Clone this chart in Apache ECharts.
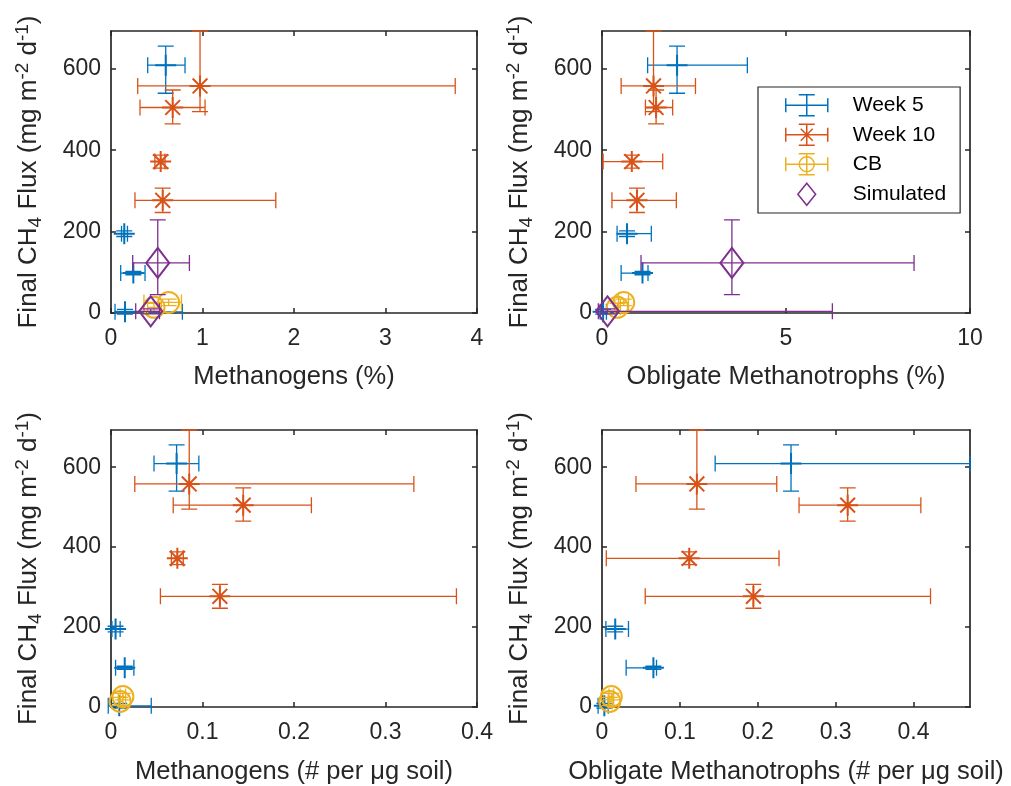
<!DOCTYPE html>
<html><head><meta charset="utf-8">
<script src="https://cdn.jsdelivr.net/npm/echarts@6/dist/echarts.min.js"></script>
<style>html,body{margin:0;padding:0;background:#fff}#c{width:1011px;height:786px}</style>
</head><body><div id="c"></div><script>
// ---- y values: final CH4 flux, with [low, high] error limits ----
const week5Flux = [609, 195, 98, 3];
const week5FluxErr = [[540, 656], [188, 202], [94, 102], [-3, 9]];
const week10Flux = [558, 505, 372, 277];
const week10FluxErr = [[495, 693], [465, 548], [356, 388], [247, 307]];
const cbFlux = [14, 26];
const cbFluxErr = [[4, 24], [18, 34]];
const simFlux = [123, 4];
const simFluxErr = [[45, 229], [-2, 10]];

// ---- x values as [value, low, high] ----
const week5MethPct  = [[0.598, 0.401, 0.809], [0.145, 0.115, 0.18], [0.244, 0.106, 0.372], [0.153, 0.044, 0.78]];
const week10MethPct = [[0.973, 0.292, 3.762], [0.674, 0.317, 1.028], [0.543, 0.48, 0.59], [0.565, 0.262, 1.801]];
const cbMethPct     = [[0.47, 0.40, 0.55], [0.63, 0.36, 0.77]];
const simMethPct    = [[0.511, 0.237, 0.857], [0.434, 0.27, 0.53]];

const week5OblPct  = [[2.04, 1.24, 3.95], [0.68, 0.41, 1.34], [1.10, 0.52, 1.25], [0.03, -0.05, 0.12]];
const week10OblPct = [[1.40, 0.52, 2.54], [1.47, 1.18, 1.92], [0.81, 0.03, 1.65], [0.95, 0.27, 2.02]];
const cbOblPct     = [[0.42, 0.35, 0.50], [0.59, 0.45, 0.72]];
const simOblPct    = [[3.53, 1.06, 8.48], [0.15, -0.1, 6.26]];

const week5MethCount  = [[0.0717, 0.047, 0.096], [0.005, 0.001, 0.010], [0.015, 0.005, 0.025], [0.009, -0.003, 0.044]];
const week10MethCount = [[0.0855, 0.026, 0.331], [0.1445, 0.068, 0.219], [0.0725, 0.066, 0.079], [0.119, 0.054, 0.3775]];
const cbMethCount     = [[0.010, 0.008, 0.013], [0.013, 0.010, 0.016]];

const week5OblCount  = [[0.2427, 0.1453, 0.4725], [0.017, 0.005, 0.034], [0.066, 0.031, 0.070], [0.003, -0.005, 0.008]];
const week10OblCount = [[0.1218, 0.0436, 0.2244], [0.3154, 0.253, 0.4094], [0.112, 0.0055, 0.2273], [0.1944, 0.0555, 0.4218]];
const cbOblCount     = [[0.010, 0.008, 0.013], [0.012, 0.009, 0.015]];

// ---- tick labels ----
const fluxTicks = [0, 200, 400, 600];
const methPctTicks = [0, 1, 2, 3, 4];
const oblPctTicks = [0, 5, 10];
const countTicks = [0, 0.1, 0.2, 0.3, 0.4];

const seriesNames = ['Week 5', 'Week 10', 'CB', 'Simulated'];
const xNames = ['Methanogens (%)', 'Obligate Methanotrophs (%)', 'Methanogens (# per \u03bcg soil)', 'Obligate Methanotrophs (# per \u03bcg soil)'];

const colors = {'Week 5': '#0072BD', 'Week 10': '#D95319', 'CB': '#EDB120', 'Simulated': '#7E2F8E'};
const markers = {'Week 5': 'plus', 'Week 10': 'star', 'CB': 'circle', 'Simulated': 'diamond'};
const FONT = "'Liberation Sans', Arial, Helvetica, sans-serif";
const AXC = '#262626';

const panels = [
  {grid: {left: 111, top: 31, width: 366, height: 282}, xmax: 4, xticks: methPctTicks, nameGap: 51,
   sets: [week5MethPct, week10MethPct, cbMethPct, simMethPct]},
  {grid: {left: 602, top: 31, width: 368, height: 282}, xmax: 10, xticks: oblPctTicks, nameGap: 51,
   sets: [week5OblPct, week10OblPct, cbOblPct, simOblPct]},
  {grid: {left: 111, top: 430, width: 366, height: 280}, xmax: 0.4, xticks: countTicks, nameGap: 52,
   sets: [week5MethCount, week10MethCount, cbMethCount, null]},
  {grid: {left: 602, top: 430, width: 368, height: 280}, xmax: 0.4725, xticks: countTicks, nameGap: 52,
   sets: [week5OblCount, week10OblCount, cbOblCount, null]}
];
const yData = [[week5Flux, week5FluxErr], [week10Flux, week10FluxErr], [cbFlux, cbFluxErr], [simFlux, simFluxErr]];

function makeRender(marker) {
  return function (params, api) {
    const x = api.value(0), y = api.value(1);
    const c = api.coord([x, y]);
    const xl = api.coord([api.value(2), y])[0], xh = api.coord([api.value(3), y])[0];
    const yl = api.coord([x, api.value(4)])[1], yh = api.coord([x, api.value(5)])[1];
    const color = api.visual('color');
    const cap = 8, cx = c[0], cy = c[1];
    let p = `M${xl},${cy}L${xh},${cy}M${xl},${cy - cap}L${xl},${cy + cap}M${xh},${cy - cap}L${xh},${cy + cap}`;
    p += `M${cx},${yl}L${cx},${yh}M${cx - cap},${yl}L${cx + cap},${yl}M${cx - cap},${yh}L${cx + cap},${yh}`;
    const children = [{type: 'path', shape: {pathData: p}, style: {stroke: color, fill: 'none', lineWidth: 1.3}}];
    const ms = {stroke: color, fill: 'none', lineWidth: 2};
    if (marker === 'plus') {
      children.push({type: 'path', shape: {pathData: `M${cx - 10.5},${cy}L${cx + 10.5},${cy}M${cx},${cy - 10.5}L${cx},${cy + 10.5}`}, style: ms});
    } else if (marker === 'star') {
      const d = 7.4;
      children.push({type: 'path', shape: {pathData: `M${cx - 10.5},${cy}L${cx + 10.5},${cy}M${cx},${cy - 10.5}L${cx},${cy + 10.5}M${cx - d},${cy - d}L${cx + d},${cy + d}M${cx - d},${cy + d}L${cx + d},${cy - d}`}, style: ms});
    } else if (marker === 'circle') {
      children.push({type: 'circle', shape: {cx: cx, cy: cy, r: 10.5}, style: ms});
    } else {
      children.push({type: 'path', shape: {pathData: `M${cx},${cy - 15}L${cx + 11.5},${cy}L${cx},${cy + 15}L${cx - 11.5},${cy}Z`}, style: ms});
    }
    return {type: 'group', children: children};
  };
}

const grids = [], xAxes = [], yAxes = [], series = [];
const yRich = {
  a: {fontSize: 26, color: AXC, fontFamily: FONT, lineHeight: 32},
  b: {fontSize: 19, color: AXC, fontFamily: FONT, verticalAlign: 'bottom', lineHeight: 19},
  c: {fontSize: 19, color: AXC, fontFamily: FONT, verticalAlign: 'top', lineHeight: 19}
};
const yName = '{a|Final CH}{b|4}{a| Flux (mg m}{c|-2}{a| d}{c|-1}{a|)}';

panels.forEach((pn, i) => {
  grids.push(pn.grid);
  const axLine = {show: true, onZero: false, lineStyle: {color: AXC, width: 1.7}};
  const tick = {show: true, inside: true, length: 5, lineStyle: {color: AXC, width: 1.5}};
  xAxes.push({
    type: 'value', gridIndex: i, position: 'bottom', min: 0, max: pn.xmax,
    axisLine: axLine, splitLine: {show: false},
    axisTick: Object.assign({customValues: pn.xticks}, tick),
    axisLabel: {customValues: pn.xticks, fontSize: 23, color: AXC, fontFamily: FONT, margin: 14},
    name: xNames[i], nameLocation: 'middle', nameGap: pn.nameGap,
    nameTextStyle: {fontSize: 25.5, color: AXC, fontFamily: FONT}
  });
  xAxes.push({
    type: 'value', gridIndex: i, position: 'top', min: 0, max: pn.xmax,
    axisLine: axLine, splitLine: {show: false},
    axisTick: Object.assign({customValues: pn.xticks}, tick),
    axisLabel: {show: false}
  });
  yAxes.push({
    type: 'value', gridIndex: i, position: 'left', min: 0, max: 693,
    axisLine: axLine, splitLine: {show: false},
    axisTick: Object.assign({customValues: fluxTicks}, tick),
    axisLabel: {customValues: fluxTicks, fontSize: 23, color: AXC, fontFamily: FONT, margin: 10},
    name: yName, nameLocation: 'middle', nameGap: 66, nameRotate: 90,
    nameTextStyle: {rich: yRich}
  });
  yAxes.push({
    type: 'value', gridIndex: i, position: 'right', min: 0, max: 693,
    axisLine: axLine, splitLine: {show: false},
    axisTick: Object.assign({customValues: fluxTicks}, tick),
    axisLabel: {show: false}
  });
  pn.sets.forEach((xs, k) => {
    if (!xs) return;
    const name = seriesNames[k];
    const ys = yData[k];
    series.push({
      type: 'custom', name: name, xAxisIndex: 2 * i, yAxisIndex: 2 * i,
      itemStyle: {color: colors[name]}, clip: false, silent: true,
      encode: {x: 0, y: 1},
      renderItem: makeRender(markers[name]),
      data: xs.map((v, j) => [v[0], ys[0][j], v[1], v[2], ys[1][j][0], ys[1][j][1]])
    });
  });
});

const ebIcon = 'M0,11L42,11M0,4L0,18M42,4L42,18M21,0.5L21,21.5M13,0.5L29,0.5M13,21.5L29,21.5';
const legendIcons = {
  'Week 5': 'path://' + ebIcon,
  'Week 10': 'path://' + ebIcon + 'M15,5L27,17M27,5L15,17',
  'CB': 'path://' + ebIcon + 'M28.5,11A7.5,7.5 0 1 1 13.5,11A7.5,7.5 0 1 1 28.5,11',
  'Simulated': 'path://M8.5,0L17,10.5L8.5,21L0,10.5Z'
};

const option = {
  animation: false,
  backgroundColor: '#fff',
  textStyle: {fontFamily: FONT},
  grid: grids, xAxis: xAxes, yAxis: yAxes, series: series,
  legend: {
    orient: 'vertical', left: 758, top: 87,
    padding: [7, 14, 7, 27], itemGap: 7, itemWidth: 42, itemHeight: 22,
    backgroundColor: '#fff', borderColor: AXC, borderWidth: 1.2,
    textStyle: {fontSize: 21, color: '#000', fontFamily: FONT, padding: [0, 0, 0, 20]},
    selectedMode: false,
    data: seriesNames.map(n => ({name: n, icon: legendIcons[n],
      itemStyle: {color: 'rgba(0,0,0,0)', borderColor: colors[n], borderWidth: 1.5}}))
  }
};
echarts.init(document.getElementById('c'), null, {renderer: 'canvas'}).setOption(option);
</script></body></html>
